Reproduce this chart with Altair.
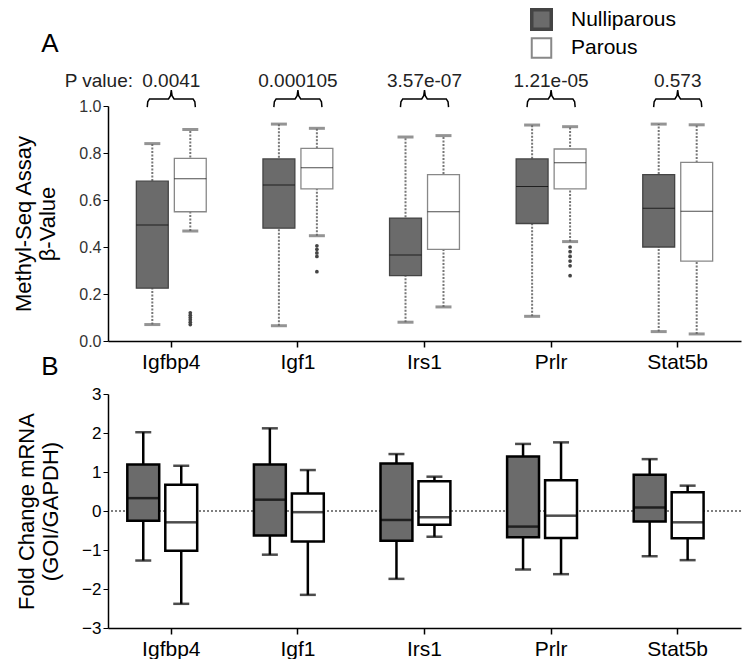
import altair as alt
import pandas as pd

genes = ["Igfbp4", "Igf1", "Irs1", "Prlr", "Stat5b"]
groups = ["Nulliparous", "Parous"]
p_values = ["0.0041", "0.000105", "3.57e-07", "1.21e-05", "0.573"]

# Panel A: Methyl-Seq beta values (box statistics)
a_null_lo = [0.07, 0.065, 0.08, 0.105, 0.04]
a_null_q1 = [0.225, 0.48, 0.278, 0.50, 0.40]
a_null_med = [0.494, 0.664, 0.366, 0.657, 0.565]
a_null_q3 = [0.68, 0.775, 0.523, 0.775, 0.708]
a_null_hi = [0.84, 0.923, 0.868, 0.919, 0.923]
a_par_lo = [0.468, 0.448, 0.145, 0.423, 0.03]
a_par_q1 = [0.55, 0.647, 0.39, 0.647, 0.34]
a_par_med = [0.69, 0.737, 0.55, 0.759, 0.552]
a_par_q3 = [0.777, 0.82, 0.708, 0.817, 0.76]
a_par_hi = [0.90, 0.905, 0.874, 0.912, 0.92]
a_out_gene = ["Igfbp4"] * 6 + ["Igf1"] * 5 + ["Prlr"] * 6
a_out_val = [0.07, 0.08, 0.09, 0.10, 0.11, 0.12,
             0.405, 0.39, 0.375, 0.36, 0.295,
             0.40, 0.38, 0.36, 0.34, 0.32, 0.278]

# Panel B: fold change mRNA
b_null_lo = [-1.27, -1.12, -1.74, -1.50, -1.16]
b_null_q1 = [-0.25, -0.63, -0.76, -0.67, -0.27]
b_null_med = [0.33, 0.29, -0.23, -0.40, 0.09]
b_null_q3 = [1.19, 1.19, 1.22, 1.40, 0.93]
b_null_hi = [2.02, 2.12, 1.46, 1.72, 1.33]
b_par_lo = [-2.38, -2.15, -0.66, -1.62, -1.26]
b_par_q1 = [-1.02, -0.78, -0.35, -0.69, -0.70]
b_par_med = [-0.29, -0.03, -0.16, -0.12, -0.29]
b_par_q3 = [0.67, 0.45, 0.76, 0.79, 0.48]
b_par_hi = [1.16, 1.05, 0.88, 1.76, 0.65]

FONT = "Liberation Sans"
DARK = "#6b6b6b"


def stats_df(nl, n1, nm, n3, nh, pl, p1, pm, p3, ph):
    rows = []
    for i, g in enumerate(genes):
        rows.append(dict(gene=g, group="Nulliparous", lo=nl[i], q1=n1[i], med=nm[i], q3=n3[i], hi=nh[i]))
        rows.append(dict(gene=g, group="Parous", lo=pl[i], q1=p1[i], med=pm[i], q3=p3[i], hi=ph[i]))
    return pd.DataFrame(rows)


dfA = stats_df(a_null_lo, a_null_q1, a_null_med, a_null_q3, a_null_hi,
               a_par_lo, a_par_q1, a_par_med, a_par_q3, a_par_hi)
dfB = stats_df(b_null_lo, b_null_q1, b_null_med, b_null_q3, b_null_hi,
               b_par_lo, b_par_q1, b_par_med, b_par_q3, b_par_hi)
outA = pd.DataFrame({"gene": a_out_gene, "group": "Parous", "v": a_out_val})

W = 633
HA = 235
HB = 234

color_scale = alt.Scale(domain=groups, range=[DARK, "white"])
legend = alt.Legend(title=None, orient="none", legendX=422, legendY=-98,
                    symbolType="square", symbolSize=380, symbolStrokeColor="black",
                    symbolStrokeWidth=1, labelFontSize=21, labelFont=FONT,
                    labelColor="black", labelOffset=18, rowPadding=-4)


def xenc(pad, axis=True):
    ax = alt.Axis(title=None, labelAngle=0, labelFontSize=21, labelFont=FONT,
                  labelColor="black", domainColor="black", domainWidth=1.5,
                  tickColor="black", tickSize=6, tickWidth=1.5, labelPadding=4) if axis else None
    return alt.X("gene:N", sort=genes, scale=alt.Scale(domain=genes, paddingInner=pad, paddingOuter=pad / 2),
                 axis=ax)


def xoff(pad):
    return alt.XOffset("group:N", sort=groups,
                       scale=alt.Scale(domain=groups, paddingInner=pad, paddingOuter=pad / 2))


# ---------------- Panel A ----------------
yA_scale = alt.Scale(domain=[0, 1], nice=False)
yA_axis = alt.Axis(title=["Methyl-Seq Assay", "β-Value"], titleFontSize=22, titleFont=FONT,
                   titleFontWeight="normal", titleColor="black", titlePadding=19,
                   values=[0, 0.2, 0.4, 0.6, 0.8, 1.0], format=".1f", labelFontSize=16,
                   labelFont=FONT, labelColor="#333", domainColor="black", domainWidth=1.5,
                   tickColor="black", tickSize=5, grid=False, labelOverlap=False)

baseA = alt.Chart(dfA)
PA, POA = 0.4, 0.16
whA = baseA.mark_rule(color="#777", strokeDash=[2, 1.5], strokeWidth=2).encode(
    x=xenc(PA), xOffset=xoff(POA), y=alt.Y("lo:Q", scale=yA_scale, axis=yA_axis), y2="hi:Q")
capA_lo = baseA.mark_tick(color="#666", size=16, thickness=3).encode(
    x=xenc(PA), xOffset=xoff(POA), y="lo:Q")
capA_hi = baseA.mark_tick(color="#666", size=16, thickness=3).encode(
    x=xenc(PA), xOffset=xoff(POA), y="hi:Q")
boxA = baseA.mark_bar(strokeWidth=1.3).encode(
    x=xenc(PA), xOffset=xoff(POA), y="q1:Q", y2="q3:Q",
    color=alt.Color("group:N", scale=color_scale, legend=legend),
    stroke=alt.Stroke("group:N", scale=alt.Scale(domain=groups, range=["#444", "#888"]), legend=None))
medA = baseA.mark_tick(color="black", size=32).encode(
    x=xenc(PA), xOffset=xoff(POA), y="med:Q",
    strokeWidth=alt.StrokeWidth("group:N", scale=alt.Scale(domain=groups, range=[3.5, 2]), legend=None))
outAm = alt.Chart(outA).mark_point(filled=True, color="#444", size=14, opacity=1).encode(
    x=xenc(PA), xOffset=xoff(POA), y="v:Q")
pvals = alt.Chart(pd.DataFrame({"gene": genes, "p": p_values})).mark_text(
    fontSize=19, font=FONT, color="#222").encode(x=xenc(PA), text="p:N", y=alt.value(-25))
plabel = alt.Chart(pd.DataFrame({"t": ["P value:"]})).mark_text(
    fontSize=19, font=FONT, color="#222", align="right").encode(
    text="t:N", x=alt.value(25), y=alt.value(-25))
labA = alt.Chart(pd.DataFrame({"t": ["A"]})).mark_text(
    fontSize=26, font=FONT, color="black").encode(text="t:N", x=alt.value(-58), y=alt.value(-62))
labB = alt.Chart(pd.DataFrame({"t": ["B"]})).mark_text(
    fontSize=26, font=FONT, color="black").encode(text="t:N", x=alt.value(-58), y=alt.value(HA + 26))

# braces: built from gene index (centre = i + 0.5) on a hidden linear scale
bx, by, bg, bo = [], [], [], []
shape = [(-0.19, 0.995), (-0.186, 1.018), (-0.172, 1.03), (-0.022, 1.03), (-0.006, 1.044), (0.0, 1.068),
         (0.006, 1.044), (0.022, 1.03), (0.172, 1.03), (0.186, 1.018), (0.19, 0.995)]
for i, g in enumerate(genes):
    for k, (dx, dy) in enumerate(shape):
        bx.append(i + 0.5 + dx)
        by.append(dy)
        bg.append(g)
        bo.append(k)
braces = alt.Chart(pd.DataFrame({"x": bx, "y": by, "g": bg, "o": bo})).mark_line(
    color="black", strokeWidth=1.5).encode(
    x=alt.X("x:Q", scale=alt.Scale(domain=[0, 5], nice=False), axis=None),
    y="y:Q", detail="g:N", order="o:Q")

bandA = alt.layer(whA, capA_lo, capA_hi, boxA, medA, outAm, pvals, plabel, labA, labB)
chartA = alt.layer(bandA, braces).resolve_scale(x="independent").properties(width=W, height=HA)

# ---------------- Panel B ----------------
yB_scale = alt.Scale(domain=[-3, 3], nice=False)
yB_axis = alt.Axis(title=["Fold Change mRNA", "(GOI/GAPDH)"], titleFontSize=22, titleFont=FONT,
                   titleFontWeight="normal", titleColor="black", titlePadding=19,
                   values=[-3, -2, -1, 0, 1, 2, 3], format="d", labelFontSize=17,
                   labelFont=FONT, labelColor="black", domainColor="black", domainWidth=1.5,
                   tickColor="black", tickSize=5, grid=False, labelOverlap=False)
baseB = alt.Chart(dfB)
PB, POB = 0.257, 0.34
yB = alt.Y("lo:Q", scale=yB_scale, axis=yB_axis)
zero = alt.Chart(pd.DataFrame({"z": [0]})).mark_rule(
    color="black", strokeDash=[2, 2], strokeWidth=1.2).encode(
    y=alt.Y("z:Q", scale=yB_scale, axis=yB_axis))
whB = baseB.mark_rule(color="black", strokeWidth=2.5).encode(
    x=xenc(PB), xOffset=xoff(POB), y=yB, y2="hi:Q")
capB_lo = baseB.mark_tick(color="black", size=16, thickness=2.5).encode(
    x=xenc(PB), xOffset=xoff(POB), y=yB)
capB_hi = baseB.mark_tick(color="black", size=16, thickness=2.5).encode(
    x=xenc(PB), xOffset=xoff(POB), y=alt.Y("hi:Q", scale=yB_scale, axis=yB_axis))
boxB = baseB.mark_bar(stroke="black", strokeWidth=2.5).encode(
    x=xenc(PB), xOffset=xoff(POB), y=alt.Y("q1:Q", scale=yB_scale, axis=yB_axis), y2="q3:Q",
    color=alt.Color("group:N", scale=color_scale, legend=legend))
medB = baseB.mark_tick(color="black", size=31, thickness=2.5).encode(
    x=xenc(PB), xOffset=xoff(POB), y=alt.Y("med:Q", scale=yB_scale, axis=yB_axis))
chartB = alt.layer(zero, whB, capB_lo, capB_hi, boxB, medB).properties(width=W, height=HB)

chart = alt.vconcat(chartA, chartB, spacing=5).properties(
    padding={"left": 4, "top": 0, "right": 0, "bottom": 0}
).configure_view(stroke=None).configure_tick(bandSize=16).configure_axis(labelOverlap=False)

chart.save("out.html", embed_options={"renderer": "svg", "actions": False})
